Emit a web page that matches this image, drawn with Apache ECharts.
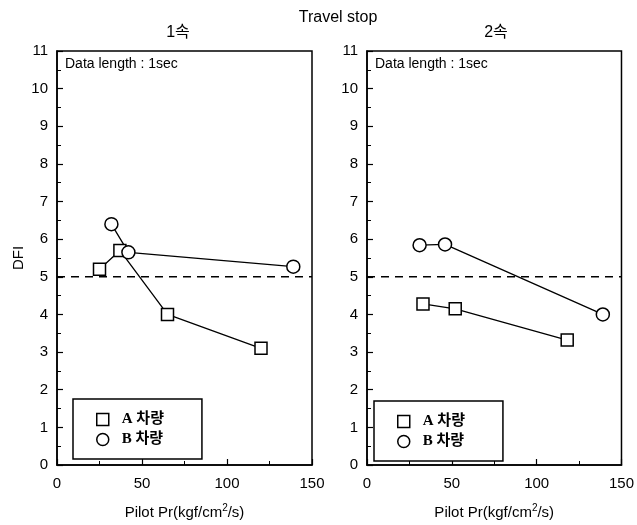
<!DOCTYPE html>
<html>
<head>
<meta charset="utf-8">
<script src="https://cdn.jsdelivr.net/npm/echarts@6/dist/echarts.min.js"></script>
<style>
  html, body { margin: 0; padding: 0; background: #fff; }
  #chart { width: 637px; height: 525px; }
</style>
</head>
<body>
<div id="chart"></div>
<script>
// DFI vs pilot pressure rate, travel stop, 1st and 2nd speed
const seriesNames = ['A 차량', 'B 차량'];
const speedTitles = ['1속', '2속'];
const threshold = 5;

// 1속 panel: [pilot Pr, DFI]
const speed1A = [[25, 5.2], [37, 5.7], [65, 4.0], [120, 3.1]];
const speed1B = [[32, 6.4], [42, 5.65], [139, 5.27]];
// 2속 panel
const speed2A = [[33, 4.28], [52, 4.15], [118, 3.32]];
const speed2B = [[31, 5.84], [46, 5.86], [139, 4.0]];

const xTicks = { min: 0, max: 150, interval: 50 };
const yTicks = { min: 0, max: 11, interval: 1 };

const FONT = "'Liberation Sans', Arial, 'Noto Sans CJK KR', sans-serif";
const LEG_FONT = "'Liberation Serif', 'Noto Sans CJK KR', serif";

const grids = [
  { left: 57, top: 51, width: 255, height: 419 },
  { left: 367, top: 51, width: 255, height: 419 }
];

function xAxisFor(i) {
  return {
    type: 'value', gridIndex: i,
    min: xTicks.min, max: xTicks.max, interval: xTicks.interval,
    name: 'Pilot Pr(kgf/cm{sup|2}/s)',
    nameLocation: 'middle', nameGap: 38,
    nameTextStyle: {
      fontFamily: FONT, fontSize: 15, color: '#000',
      rich: { sup: { fontFamily: FONT, fontSize: 10, color: '#000', padding: [0, 0, 9, 0] } }
    },
    axisLine: { show: true, lineStyle: { color: '#000', width: 1.5 } },
    axisTick: { show: true, inside: true, length: 6, lineStyle: { color: '#000', width: 1.2 } },
    minorTick: { show: true, splitNumber: 2, length: 4, lineStyle: { color: '#000', width: 1 } },
    splitLine: { show: false },
    axisLabel: { fontFamily: FONT, fontSize: 15, color: '#000', margin: 11 }
  };
}

function yAxisFor(i) {
  return {
    type: 'value', gridIndex: i,
    min: yTicks.min, max: yTicks.max, interval: yTicks.interval,
    name: i === 0 ? 'DFI' : '',
    nameLocation: 'middle', nameGap: 31, nameRotate: 90,
    nameTextStyle: { fontFamily: FONT, fontSize: 15, color: '#000' },
    axisLine: { show: true, lineStyle: { color: '#000', width: 1.5 } },
    axisTick: { show: true, inside: true, length: 6, lineStyle: { color: '#000', width: 1.2 } },
    minorTick: { show: true, splitNumber: 2, length: 4, lineStyle: { color: '#000', width: 1 } },
    splitLine: { show: false },
    axisLabel: { fontFamily: FONT, fontSize: 15, color: '#000', margin: 9 }
  };
}

function dataSeries(name, data, i, symbol, size) {
  return {
    name: name, type: 'line', xAxisIndex: i, yAxisIndex: i,
    data: data, symbol: symbol, symbolSize: size,
    showAllSymbol: true,
    itemStyle: { color: '#fff', borderColor: '#000', borderWidth: 1.5 },
    lineStyle: { color: '#000', width: 1.3 },
    emphasis: { disabled: true },
    z: 3
  };
}

function thresholdSeries(i) {
  return {
    name: 'threshold' + i, type: 'line', xAxisIndex: i, yAxisIndex: i,
    data: [[xTicks.min, threshold], [xTicks.max, threshold]],
    symbol: 'none',
    lineStyle: { color: '#000', width: 1.5, type: [8, 6] },
    silent: true, z: 2
  };
}

function legendFor(left, top) {
  return {
    left: left, top: top, orient: 'vertical',
    data: [{ name: seriesNames[0], icon: 'rect' }, { name: seriesNames[1], icon: 'circle' }],
    itemWidth: 12, itemHeight: 12, itemGap: 5,
    padding: [13, 38, 12, 23],
    borderColor: '#000', borderWidth: 1.5, backgroundColor: '#fff',
    itemStyle: { color: '#fff', borderColor: '#000', borderWidth: 1.5 },
    textStyle: { fontFamily: LEG_FONT, fontWeight: 'bold', fontSize: 15, color: '#000',
                 lineHeight: 14, padding: [0, 0, 0, 8] },
    selectedMode: false
  };
}

function label(text, x, y, size, align) {
  return {
    type: 'text', x: x, y: y,
    style: { text: text, fontFamily: FONT, fontSize: size, fill: '#000',
             align: align || 'center', verticalAlign: 'middle' }
  };
}

const chart = echarts.init(document.getElementById('chart'), null, { renderer: 'canvas' });
chart.setOption({
  backgroundColor: '#fff',
  animation: false,
  grid: grids.map(g => Object.assign({ show: true, borderColor: '#000', borderWidth: 1.5, backgroundColor: 'transparent' }, g)),
  xAxis: [xAxisFor(0), xAxisFor(1)],
  yAxis: [yAxisFor(0), yAxisFor(1)],
  legend: [legendFor(73, 399), legendFor(374, 401)],
  series: [
    thresholdSeries(0),
    thresholdSeries(1),
    dataSeries(seriesNames[0], speed1A, 0, 'rect', 12),
    dataSeries(seriesNames[1], speed1B, 0, 'circle', 13),
    dataSeries(seriesNames[0], speed2A, 1, 'rect', 12),
    dataSeries(seriesNames[1], speed2B, 1, 'circle', 13)
  ],
  graphic: [
    label('Travel stop', 338, 18, 16),
    label(speedTitles[0], 178, 33, 16),
    label(speedTitles[1], 496, 33, 16),
    label('Data length : 1sec', 65, 64, 14, 'left'),
    label('Data length : 1sec', 375, 64, 14, 'left')
  ]
});
</script>
</body>
</html>
